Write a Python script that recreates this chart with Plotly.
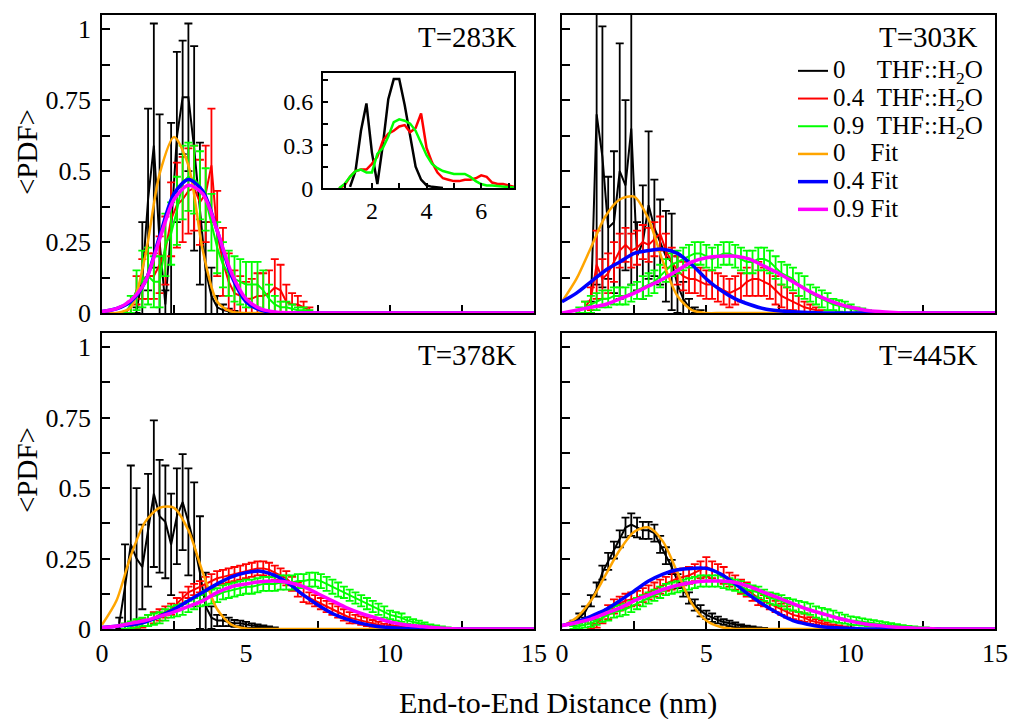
import plotly.graph_objects as go

FONT = "Liberation Serif"
W, H = 1012, 719

PANEL_TITLES = ["T=283K", "T=303K", "T=378K", "T=445K"]
SERIES_NAMES = [
    "0\u00a0\u00a0\u00a0\u00a0\u00a0THF::H<sub>2</sub>O",
    "0.4\u00a0\u00a0THF::H<sub>2</sub>O",
    "0.9\u00a0\u00a0THF::H<sub>2</sub>O",
    "0\u00a0\u00a0\u00a0\u00a0Fit",
    "0.4 Fit",
    "0.9 Fit",
]
COLORS = ["#000000", "#ff0000", "#00ff00", "#ffa500", "#0000ff", "#ff00ff"]

X_TICKS = [0, 5, 10, 15]
X_TICKTEXT = ["0", "5", "10", "15"]
Y_TICKS = [0, 0.25, 0.5, 0.75, 1]
Y_TICKTEXT = ["0", "0.25", "0.5", "0.75", "1"]
INSET_X_TICKS = [2, 4, 6]
INSET_X_TICKTEXT = ["2", "4", "6"]
INSET_Y_TICKS = [0, 0.3, 0.6]
INSET_Y_TICKTEXT = ["0", "0.3", "0.6"]

# ---------------- T = 283 K ----------------
X_B283 = [1.2, 1.4, 1.6, 1.8, 2.0, 2.2, 2.4, 2.6, 2.8, 3.0, 3.2, 3.4, 3.6, 3.8, 4.0, 4.2, 4.4, 4.6]
B283_M = [0.01, 0.12, 0.40, 0.59, 0.25, 0.03, 0.30, 0.62, 0.76, 0.76, 0.58, 0.35, 0.15, 0.06, 0.02, 0.01, 0.005, 0.002]
B283_E = [0.01, 0.20, 0.32, 0.43, 0.45, 0.05, 0.37, 0.30, 0.20, 0.26, 0.36, 0.25, 0.17, 0.10, 0.04, 0.02, 0.01, 0.005]

X_RG283 = [0.8, 1.0, 1.2, 1.4, 1.6, 1.8, 2.0, 2.2, 2.4, 2.6, 2.8, 3.0, 3.2, 3.4, 3.6, 3.8, 4.0,
           4.2, 4.4, 4.6, 4.8, 5.0, 5.2, 5.4, 5.6, 5.8, 6.0, 6.2, 6.4, 6.6, 6.8, 7.0, 7.2]
R283_M = [0.0, 0.02, 0.08, 0.12, 0.13, 0.13, 0.17, 0.22, 0.33, 0.38, 0.40, 0.43, 0.44, 0.39, 0.42, 0.52, 0.28,
          0.18, 0.11, 0.07, 0.06, 0.05, 0.05, 0.06, 0.06, 0.07, 0.09, 0.08, 0.04, 0.03, 0.03, 0.02, 0.01]
R283_E = [0.0, 0.02, 0.05, 0.07, 0.08, 0.08, 0.10, 0.12, 0.13, 0.15, 0.15, 0.15, 0.15, 0.15, 0.17, 0.20, 0.15,
          0.12, 0.10, 0.08, 0.07, 0.06, 0.07, 0.08, 0.08, 0.08, 0.10, 0.09, 0.06, 0.04, 0.03, 0.02, 0.01]
G283_M = [0.0, 0.03, 0.08, 0.12, 0.13, 0.11, 0.11, 0.24, 0.28, 0.36, 0.46, 0.48, 0.47, 0.45, 0.40, 0.32, 0.23,
          0.17, 0.14, 0.12, 0.11, 0.10, 0.10, 0.10, 0.08, 0.05, 0.03, 0.02, 0.02, 0.015, 0.01, 0.01, 0.005]
G283_E = [0.0, 0.03, 0.07, 0.10, 0.10, 0.09, 0.09, 0.11, 0.11, 0.12, 0.13, 0.12, 0.12, 0.12, 0.11, 0.10, 0.09,
          0.08, 0.08, 0.08, 0.08, 0.08, 0.08, 0.08, 0.07, 0.05, 0.03, 0.02, 0.02, 0.015, 0.01, 0.01, 0.005]

# ---------------- T = 303 K ----------------
X_B303 = [1.0, 1.2, 1.4, 1.6, 1.8, 2.0, 2.2, 2.4, 2.6, 2.8, 3.0, 3.2, 3.4, 3.6, 3.8, 4.0, 4.2, 4.4, 4.6, 4.8]
B303_M = [0.02, 0.70, 0.55, 0.30, 0.32, 0.50, 0.45, 0.65, 0.20, 0.25, 0.38, 0.30, 0.25, 0.20, 0.18, 0.10, 0.05, 0.02, 0.01, 0.005]
B303_E = [0.02, 0.60, 0.46, 0.18, 0.25, 0.45, 0.30, 0.55, 0.12, 0.20, 0.26, 0.17, 0.15, 0.16, 0.17, 0.10, 0.06, 0.03, 0.01, 0.005]

X_R303 = [0.8, 1.0, 1.2, 1.4, 1.6, 1.8, 2.0, 2.2, 2.4, 2.6, 2.8, 3.0, 3.2, 3.4, 3.6, 3.8, 4.0, 4.2, 4.4, 4.6, 4.8,
          5.0, 5.2, 5.4, 5.6, 5.8, 6.0, 6.2, 6.4, 6.6, 6.8, 7.0, 7.2, 7.4, 7.6, 7.8, 8.0, 8.2, 8.4, 8.6, 8.8, 9.0]
R303_M = [0.02, 0.05, 0.17, 0.12, 0.14, 0.18, 0.22, 0.24, 0.22, 0.23, 0.25, 0.24, 0.26, 0.28, 0.22, 0.18, 0.15, 0.13, 0.12, 0.12, 0.11,
          0.10, 0.10, 0.09, 0.08, 0.07, 0.08, 0.09, 0.11, 0.12, 0.12, 0.11, 0.10, 0.08, 0.06, 0.05, 0.04, 0.03, 0.02, 0.015, 0.01, 0.005]
R303_E = [0.02, 0.04, 0.12, 0.07, 0.07, 0.07, 0.06, 0.06, 0.06, 0.06, 0.06, 0.06, 0.06, 0.06, 0.06, 0.05, 0.05, 0.05, 0.05, 0.05, 0.05,
          0.05, 0.05, 0.05, 0.05, 0.05, 0.05, 0.05, 0.05, 0.06, 0.06, 0.05, 0.05, 0.05, 0.04, 0.04, 0.03, 0.03, 0.02, 0.015, 0.01, 0.005]

X_G303 = [0.6, 0.8, 1.0, 1.2, 1.4, 1.6, 1.8, 2.0, 2.2, 2.4, 2.6, 2.8, 3.0, 3.2, 3.4, 3.6, 3.8, 4.0, 4.2, 4.4,
          4.6, 4.8, 5.0, 5.2, 5.4, 5.6, 5.8, 6.0, 6.2, 6.4, 6.6, 6.8, 7.0, 7.2, 7.4, 7.6, 7.8, 8.0, 8.2, 8.4,
          8.6, 8.8, 9.0, 9.2, 9.4, 9.6, 9.8, 10.0, 10.2, 10.4, 10.6, 10.8, 11.0]
G303_M = [0.01, 0.02, 0.03, 0.04, 0.05, 0.05, 0.06, 0.06, 0.06, 0.07, 0.08, 0.09, 0.10, 0.11, 0.13, 0.15, 0.17, 0.18, 0.19, 0.20,
          0.21, 0.21, 0.20, 0.19, 0.20, 0.21, 0.21, 0.20, 0.19, 0.18, 0.18, 0.19, 0.19, 0.18, 0.16, 0.14, 0.13, 0.12, 0.10, 0.09,
          0.07, 0.06, 0.05, 0.04, 0.03, 0.025, 0.02, 0.015, 0.01, 0.008, 0.005, 0.003, 0.002]
G303_E = [0.01, 0.02, 0.03, 0.03, 0.03, 0.03, 0.03, 0.03, 0.03, 0.03, 0.03, 0.04, 0.04, 0.04, 0.04, 0.04, 0.04, 0.04, 0.04, 0.04,
          0.04, 0.04, 0.04, 0.04, 0.04, 0.04, 0.04, 0.04, 0.04, 0.04, 0.04, 0.04, 0.04, 0.04, 0.04, 0.04, 0.04, 0.04, 0.04, 0.04,
          0.03, 0.03, 0.03, 0.03, 0.02, 0.02, 0.02, 0.015, 0.01, 0.008, 0.005, 0.003, 0.002]

# ---------------- T = 378 K ----------------
X_B378 = [0.6, 0.8, 1.0, 1.2, 1.4, 1.6, 1.8, 2.0, 2.2, 2.4, 2.6, 2.8, 3.0, 3.2, 3.4, 3.6, 3.8, 4.0,
          4.2, 4.4, 4.6, 4.8, 5.0, 5.2, 5.4, 5.6, 5.8, 6.0]
B378_M = [0.02, 0.15, 0.30, 0.25, 0.22, 0.35, 0.48, 0.40, 0.38, 0.30, 0.40, 0.45, 0.38, 0.30, 0.20, 0.08, 0.04, 0.03,
          0.03, 0.025, 0.02, 0.02, 0.015, 0.012, 0.01, 0.008, 0.005, 0.003]
B378_E = [0.02, 0.15, 0.28, 0.25, 0.15, 0.20, 0.26, 0.20, 0.20, 0.18, 0.17, 0.17, 0.19, 0.22, 0.20, 0.12, 0.04, 0.02,
          0.02, 0.015, 0.012, 0.01, 0.01, 0.008, 0.006, 0.005, 0.004, 0.003]

X_R378 = [1.0, 1.2, 1.4, 1.6, 1.8, 2.0, 2.2, 2.4, 2.6, 2.8, 3.0, 3.2, 3.4, 3.6, 3.8, 4.0, 4.2, 4.4, 4.6, 4.8,
          5.0, 5.2, 5.4, 5.6, 5.8, 6.0, 6.2, 6.4, 6.6, 6.8, 7.0, 7.2, 7.4, 7.6, 7.8, 8.0, 8.2, 8.4, 8.6, 8.8,
          9.0, 9.2, 9.4, 9.6, 9.8, 10.0, 10.2, 10.4, 10.6, 10.8, 11.0]
R378_M = [0.01, 0.015, 0.02, 0.03, 0.04, 0.05, 0.06, 0.07, 0.09, 0.11, 0.13, 0.14, 0.15, 0.16, 0.17, 0.18, 0.185, 0.19, 0.195, 0.20,
          0.205, 0.21, 0.215, 0.215, 0.21, 0.20, 0.19, 0.18, 0.16, 0.14, 0.12, 0.11, 0.10, 0.09, 0.08, 0.07, 0.06, 0.05, 0.04, 0.035,
          0.03, 0.025, 0.02, 0.015, 0.01, 0.008, 0.006, 0.005, 0.004, 0.003, 0.002]
R378_E = [0.01, 0.012, 0.015, 0.02, 0.02, 0.02, 0.02, 0.02, 0.02, 0.02, 0.02, 0.02, 0.02, 0.025, 0.025, 0.025, 0.025, 0.025, 0.025, 0.025,
          0.025, 0.025, 0.025, 0.025, 0.025, 0.025, 0.025, 0.025, 0.025, 0.025, 0.025, 0.02, 0.02, 0.02, 0.02, 0.02, 0.02, 0.02, 0.02, 0.015,
          0.015, 0.015, 0.012, 0.01, 0.008, 0.006, 0.005, 0.004, 0.003, 0.002, 0.002]

X_G378 = [0.8, 1.0, 1.2, 1.4, 1.6, 1.8, 2.0, 2.2, 2.4, 2.6, 2.8, 3.0, 3.2, 3.4, 3.6, 3.8, 4.0, 4.2, 4.4,
          4.6, 4.8, 5.0, 5.2, 5.4, 5.6, 5.8, 6.0, 6.2, 6.4, 6.6, 6.8, 7.0, 7.2, 7.4, 7.6, 7.8, 8.0, 8.2,
          8.4, 8.6, 8.8, 9.0, 9.2, 9.4, 9.6, 9.8, 10.0, 10.2, 10.4, 10.6, 10.8, 11.0, 11.2, 11.4, 11.6, 11.8, 12.0]
G378_M = [0.01, 0.015, 0.02, 0.025, 0.03, 0.035, 0.04, 0.05, 0.06, 0.065, 0.07, 0.08, 0.09, 0.10, 0.11, 0.115, 0.12, 0.13, 0.135,
          0.14, 0.145, 0.15, 0.15, 0.155, 0.16, 0.16, 0.16, 0.165, 0.165, 0.165, 0.17, 0.17, 0.175, 0.175, 0.17, 0.16, 0.15, 0.14,
          0.13, 0.12, 0.11, 0.10, 0.09, 0.08, 0.07, 0.06, 0.05, 0.045, 0.04, 0.03, 0.025, 0.02, 0.015, 0.01, 0.008, 0.005, 0.003]
G378_E = [0.01, 0.012, 0.015, 0.015, 0.02, 0.02, 0.02, 0.02, 0.02, 0.02, 0.02, 0.02, 0.02, 0.02, 0.025, 0.025, 0.025, 0.025, 0.025,
          0.025, 0.025, 0.025, 0.025, 0.025, 0.025, 0.025, 0.025, 0.025, 0.025, 0.025, 0.025, 0.025, 0.025, 0.025, 0.025, 0.025, 0.025, 0.025,
          0.02, 0.02, 0.02, 0.02, 0.02, 0.02, 0.02, 0.02, 0.015, 0.015, 0.015, 0.012, 0.01, 0.01, 0.008, 0.006, 0.005, 0.004, 0.003]

# ---------------- T = 445 K ----------------
X_B445 = [0.4, 0.6, 0.8, 1.0, 1.2, 1.4, 1.6, 1.8, 2.0, 2.2, 2.4, 2.6, 2.8, 3.0, 3.2, 3.4, 3.6,
          3.8, 4.0, 4.2, 4.4, 4.6, 4.8, 5.0, 5.2, 5.4, 5.6, 5.8, 6.0, 6.2, 6.4, 6.6, 6.8, 7.0]
B445_M = [0.02, 0.04, 0.06, 0.10, 0.14, 0.20, 0.24, 0.28, 0.32, 0.36, 0.37, 0.36, 0.35, 0.35, 0.34, 0.30, 0.26,
          0.22, 0.17, 0.14, 0.11, 0.085, 0.065, 0.05, 0.04, 0.032, 0.025, 0.02, 0.015, 0.01, 0.007, 0.005, 0.003, 0.002]
B445_E = [0.01, 0.015, 0.02, 0.02, 0.025, 0.025, 0.03, 0.03, 0.03, 0.035, 0.04, 0.035, 0.03, 0.03, 0.03, 0.03, 0.03,
          0.025, 0.025, 0.025, 0.02, 0.02, 0.02, 0.015, 0.015, 0.012, 0.01, 0.01, 0.008, 0.006, 0.005, 0.004, 0.003, 0.002]

X_R445 = [1.0, 1.2, 1.4, 1.6, 1.8, 2.0, 2.2, 2.4, 2.6, 2.8, 3.0, 3.2, 3.4, 3.6, 3.8, 4.0, 4.2, 4.4, 4.6, 4.8,
          5.0, 5.2, 5.4, 5.6, 5.8, 6.0, 6.2, 6.4, 6.6, 6.8, 7.0, 7.2, 7.4, 7.6, 7.8, 8.0, 8.2, 8.4, 8.6, 8.8,
          9.0, 9.2, 9.4, 9.6, 9.8, 10.0]
R445_M = [0.01, 0.02, 0.04, 0.06, 0.08, 0.09, 0.10, 0.105, 0.11, 0.12, 0.13, 0.14, 0.15, 0.16, 0.17, 0.18, 0.185, 0.19, 0.20, 0.21,
          0.22, 0.21, 0.20, 0.19, 0.175, 0.165, 0.15, 0.14, 0.125, 0.11, 0.10, 0.09, 0.08, 0.07, 0.06, 0.05, 0.045, 0.04, 0.03, 0.025,
          0.02, 0.015, 0.01, 0.008, 0.005, 0.003]
R445_E = [0.01, 0.015, 0.02, 0.025, 0.025, 0.025, 0.025, 0.025, 0.025, 0.025, 0.025, 0.025, 0.025, 0.025, 0.03, 0.03, 0.03, 0.03, 0.03, 0.03,
          0.035, 0.03, 0.03, 0.03, 0.025, 0.025, 0.025, 0.025, 0.025, 0.025, 0.02, 0.02, 0.02, 0.02, 0.02, 0.015, 0.015, 0.015, 0.012, 0.01,
          0.01, 0.008, 0.006, 0.005, 0.004, 0.003]

X_G445 = [0.4, 0.6, 0.8, 1.0, 1.2, 1.4, 1.6, 1.8, 2.0, 2.2, 2.4, 2.6, 2.8, 3.0, 3.2, 3.4, 3.6, 3.8, 4.0, 4.2, 4.4,
          4.6, 4.8, 5.0, 5.2, 5.4, 5.6, 5.8, 6.0, 6.2, 6.4, 6.6, 6.8, 7.0, 7.2, 7.4, 7.6, 7.8, 8.0, 8.2, 8.4,
          8.6, 8.8, 9.0, 9.2, 9.4, 9.6, 9.8, 10.0, 10.2, 10.4, 10.6, 10.8, 11.0, 11.2, 11.4, 11.6, 11.8, 12.0,
          12.2, 12.4, 12.6, 12.8, 13.0]
G445_M = [0.005, 0.01, 0.015, 0.02, 0.03, 0.04, 0.05, 0.06, 0.065, 0.07, 0.08, 0.09, 0.10, 0.11, 0.12, 0.13, 0.14, 0.145, 0.15, 0.155, 0.16,
          0.165, 0.17, 0.17, 0.17, 0.17, 0.165, 0.16, 0.155, 0.15, 0.14, 0.135, 0.13, 0.12, 0.11, 0.105, 0.10, 0.09, 0.085, 0.08, 0.075,
          0.07, 0.06, 0.055, 0.05, 0.045, 0.04, 0.035, 0.03, 0.028, 0.025, 0.022, 0.02, 0.018, 0.015, 0.013, 0.01, 0.008, 0.006,
          0.005, 0.004, 0.003, 0.002, 0.001]
G445_E = [0.005, 0.008, 0.01, 0.012, 0.015, 0.015, 0.02, 0.02, 0.02, 0.02, 0.02, 0.02, 0.02, 0.02, 0.02, 0.02, 0.02, 0.02, 0.02, 0.02, 0.02,
          0.02, 0.02, 0.02, 0.02, 0.02, 0.02, 0.02, 0.02, 0.02, 0.02, 0.02, 0.02, 0.02, 0.02, 0.02, 0.02, 0.02, 0.02, 0.02, 0.02,
          0.02, 0.02, 0.02, 0.02, 0.02, 0.018, 0.016, 0.015, 0.014, 0.013, 0.012, 0.011, 0.01, 0.009, 0.008, 0.007, 0.006, 0.005,
          0.004, 0.003, 0.003, 0.002, 0.001]

# ---------------- Fits ----------------
FIT_X = [0.0, 0.5, 1.0, 1.5, 2.0, 2.5, 3.0, 3.5, 4.0, 4.5, 5.0, 5.5, 6.0, 6.5, 7.0, 7.5, 8.0, 8.5, 9.0, 9.5,
         10.0, 10.5, 11.0, 11.5, 12.0, 12.5, 13.0, 15.0]
FO283 = [0, 0, 0.02, 0.20, 0.49, 0.62, 0.52, 0.22, 0.04, 0.005, 0, 0, 0, 0, 0, 0, 0, 0, 0, 0, 0, 0, 0, 0, 0, 0, 0, 0]
FB283 = [0.005, 0.015, 0.04, 0.11, 0.27, 0.42, 0.47, 0.43, 0.29, 0.13, 0.04, 0.01, 0.002, 0, 0, 0, 0, 0, 0, 0, 0, 0, 0, 0, 0, 0, 0, 0]
FM283 = [0.005, 0.015, 0.045, 0.11, 0.26, 0.40, 0.45, 0.42, 0.29, 0.14, 0.05, 0.015, 0.004, 0.001, 0, 0, 0, 0, 0, 0, 0, 0, 0, 0, 0, 0, 0, 0]

FO303 = [0.04, 0.12, 0.23, 0.34, 0.40, 0.41, 0.33, 0.18, 0.06, 0.01, 0, 0, 0, 0, 0, 0, 0, 0, 0, 0, 0, 0, 0, 0, 0, 0, 0, 0]
FB303 = [0.04, 0.07, 0.11, 0.15, 0.18, 0.21, 0.22, 0.225, 0.21, 0.17, 0.12, 0.08, 0.05, 0.03, 0.015, 0.008, 0.004, 0.002,
         0, 0, 0, 0, 0, 0, 0, 0, 0, 0]
FM303 = [0, 0.01, 0.02, 0.03, 0.05, 0.07, 0.095, 0.12, 0.15, 0.18, 0.195, 0.20, 0.20, 0.19, 0.165, 0.14, 0.11, 0.08, 0.055,
         0.035, 0.02, 0.01, 0.005, 0.002, 0, 0, 0, 0]

FO378 = [0.015, 0.10, 0.26, 0.38, 0.43, 0.43, 0.35, 0.20, 0.07, 0.015, 0.002, 0, 0, 0, 0, 0, 0, 0, 0, 0, 0, 0, 0, 0, 0, 0, 0, 0]
FB378 = [0.005, 0.01, 0.015, 0.025, 0.045, 0.07, 0.10, 0.13, 0.16, 0.185, 0.20, 0.205, 0.19, 0.16, 0.12, 0.085, 0.055, 0.035,
         0.02, 0.01, 0.005, 0.002, 0, 0, 0, 0, 0, 0]
FM378 = [0.005, 0.01, 0.02, 0.03, 0.045, 0.06, 0.08, 0.10, 0.13, 0.15, 0.16, 0.168, 0.17, 0.165, 0.15, 0.125, 0.10, 0.075,
         0.055, 0.04, 0.025, 0.015, 0.01, 0.005, 0.002, 0, 0, 0]

FO445 = [0.01, 0.04, 0.10, 0.19, 0.28, 0.345, 0.36, 0.31, 0.20, 0.09, 0.03, 0.007, 0, 0, 0, 0, 0, 0, 0, 0, 0, 0, 0, 0, 0, 0, 0, 0]
FB445 = [0.012, 0.025, 0.045, 0.068, 0.10, 0.135, 0.17, 0.195, 0.21, 0.215, 0.215, 0.195, 0.16, 0.12, 0.085, 0.055, 0.03,
         0.017, 0.008, 0.004, 0.002, 0, 0, 0, 0, 0, 0, 0]
FM445 = [0.012, 0.022, 0.035, 0.055, 0.075, 0.10, 0.12, 0.14, 0.155, 0.165, 0.17, 0.17, 0.165, 0.15, 0.13, 0.11, 0.09, 0.07,
         0.055, 0.04, 0.028, 0.018, 0.012, 0.007, 0.004, 0.002, 0, 0]

PANELS = [
    dict(title=PANEL_TITLES[0], xa="x", ya="y",
         data=[(X_B283, B283_M, B283_E), (X_RG283, R283_M, R283_E), (X_RG283, G283_M, G283_E)],
         fits=[FO283, FB283, FM283]),
    dict(title=PANEL_TITLES[1], xa="x2", ya="y2",
         data=[(X_B303, B303_M, B303_E), (X_R303, R303_M, R303_E), (X_G303, G303_M, G303_E)],
         fits=[FO303, FB303, FM303]),
    dict(title=PANEL_TITLES[2], xa="x3", ya="y3",
         data=[(X_B378, B378_M, B378_E), (X_R378, R378_M, R378_E), (X_G378, G378_M, G378_E)],
         fits=[FO378, FB378, FM378]),
    dict(title=PANEL_TITLES[3], xa="x4", ya="y4",
         data=[(X_B445, B445_M, B445_E), (X_R445, R445_M, R445_E), (X_G445, G445_M, G445_E)],
         fits=[FO445, FB445, FM445]),
]

for p in PANELS:
    for xs, m, e in p["data"]:
        assert len(xs) == len(m) == len(e), (p["title"], len(xs), len(m), len(e))
    for f in p["fits"]:
        assert len(f) == len(FIT_X), (p["title"], len(f))

fig = go.Figure()
LEGEND_PANEL = 1
LEGEND_TEXT_STYLE = '<span style="font-size:25px">{}</span>'

for pi, p in enumerate(PANELS):
    for si, (xs, m, e) in enumerate(p["data"]):
        fig.add_trace(go.Scatter(
            x=xs, y=m, mode="lines", xaxis=p["xa"], yaxis=p["ya"],
            name=LEGEND_TEXT_STYLE.format(SERIES_NAMES[si]), legendgroup=f"s{si}",
            showlegend=(pi == LEGEND_PANEL),
            line=dict(color=COLORS[si], width=2),
            error_y=dict(type="data", array=e, visible=True, color=COLORS[si], thickness=1.8, width=4),
        ))
    for fi, f in enumerate(p["fits"]):
        fig.add_trace(go.Scatter(
            x=FIT_X, y=f, mode="lines", xaxis=p["xa"], yaxis=p["ya"],
            name=LEGEND_TEXT_STYLE.format(SERIES_NAMES[3 + fi]), legendgroup=f"s{3 + fi}",
            showlegend=(pi == LEGEND_PANEL),
            line=dict(color=COLORS[3 + fi], width=2.5 if fi == 0 else 3.5, shape="spline", smoothing=0.8),
        ))

# inset: mean curves of T=283K
for si, (xs, m, e) in enumerate(PANELS[0]["data"]):
    fig.add_trace(go.Scatter(
        x=xs, y=m, mode="lines", xaxis="x5", yaxis="y5", showlegend=False,
        line=dict(color=COLORS[si], width=2.5),
    ))

common = dict(showline=True, linecolor="black", linewidth=1.5, mirror=True, ticks="inside", ticklen=8,
              tickwidth=1.5, tickcolor="black", showgrid=False, zeroline=False, automargin=False)

def xaxis(domain, labels, anchor):
    return dict(common, domain=domain, range=[0, 15], tickmode="array", tickvals=X_TICKS, ticktext=X_TICKTEXT,
                showticklabels=labels, anchor=anchor, layer="below traces",
                tickfont=dict(family=FONT, size=26, color="black"),
                minor=dict(ticks="inside", ticklen=8, tickwidth=1.5, tickcolor="black", tickmode="linear", tick0=0, dtick=2.5))

def yaxis(domain, labels, anchor):
    return dict(common, domain=domain, range=[0, 1.05], tickmode="array", tickvals=Y_TICKS, ticktext=Y_TICKTEXT,
                showticklabels=labels, anchor=anchor, ticklabelstandoff=4,
                tickfont=dict(family=FONT, size=26, color="black"),
                minor=dict(ticks="inside", ticklen=8, tickwidth=1.5, tickcolor="black", tickmode="linear", tick0=0, dtick=0.125))

XL = [102 / W, 534 / W]
XR = [562 / W, 995 / W]
YT = [1 - 313 / H, 1 - 15 / H]
YB = [1 - 629 / H, 1 - 333 / H]

annotations = []
for p in PANELS:
    annotations.append(dict(text=p["title"], xref=f"{p['xa']} domain", yref=f"{p['ya']} domain",
                            x=0.965, y=0.925, xanchor="right", yanchor="middle", showarrow=False,
                            font=dict(family=FONT, size=29, color="black")))
for yc in [1 - 152 / H, 1 - 470 / H]:
    annotations.append(dict(text="&lt;PDF&gt;", xref="paper", yref="paper", x=27 / W, y=yc, textangle=-90,
                            xanchor="center", yanchor="middle", showarrow=False,
                            font=dict(family=FONT, size=29, color="black")))
annotations.append(dict(text="End-to-End Distance (nm)", xref="paper", yref="paper", x=558 / W, y=1 - 703 / H,
                        xanchor="center", yanchor="middle", showarrow=False,
                        font=dict(family=FONT, size=30, color="black")))

fig.update_layout(
    width=W, height=H,
    margin=dict(l=0, r=0, t=0, b=0),
    paper_bgcolor="white", plot_bgcolor="white",
    font=dict(family=FONT, color="black"),
    hovermode=False,
    xaxis=xaxis(XL, False, "y"),
    yaxis=yaxis(YT, True, "x"),
    xaxis2=xaxis(XR, False, "y2"),
    yaxis2=yaxis(YT, False, "x2"),
    xaxis3=xaxis(XL, True, "y3"),
    yaxis3=yaxis(YB, True, "x3"),
    xaxis4=xaxis(XR, True, "y4"),
    yaxis4=yaxis(YB, False, "x4"),
    xaxis5=dict(common, ticklen=6, domain=[322.7 / W, 514 / W], range=[0.2, 7.2], anchor="y5",
                tickmode="array", tickvals=INSET_X_TICKS, ticktext=INSET_X_TICKTEXT,
                tickfont=dict(family=FONT, size=24, color="black"),
                minor=dict(ticks="inside", ticklen=6, tickwidth=1.5, tickcolor="black", tickmode="linear", tick0=0, dtick=1)),
    yaxis5=dict(common, ticklen=6, domain=[1 - 188.3 / H, 1 - 73.3 / H], range=[0, 0.8], anchor="x5",
                tickmode="array", tickvals=INSET_Y_TICKS, ticktext=INSET_Y_TICKTEXT, ticklabelstandoff=3,
                tickfont=dict(family=FONT, size=24, color="black"),
                minor=dict(ticks="inside", ticklen=6, tickwidth=1.5, tickcolor="black", tickmode="linear", tick0=0, dtick=0.15)),
    legend=dict(x=793 / W, y=1 - 52 / H, xanchor="left", yanchor="top", bgcolor="rgba(0,0,0,0)",
                font=dict(family=FONT, size=19, color="black"), tracegroupgap=0, borderwidth=0),
    annotations=annotations,
    showlegend=True,
)

fig.write_html("out.html", config={"displayModeBar": False},
               post_script="document.body.style.margin='0px';")
